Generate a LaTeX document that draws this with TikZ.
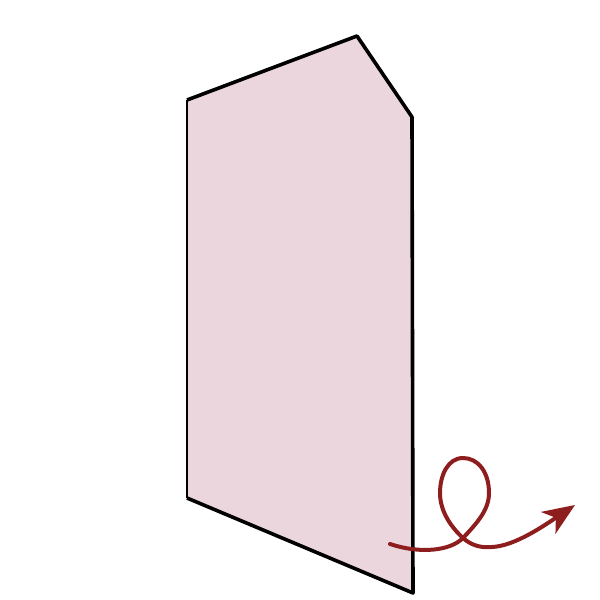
\documentclass[tikz,border=0pt]{standalone}
\usetikzlibrary{arrows.meta}
\definecolor{panelfill}{HTML}{EBD6DE}
\definecolor{curlred}{HTML}{8E1E1E}
\tikzset{
  panel/.style={fill=panelfill, draw=none},
  thickedge/.style={draw=black, line width=3.6pt, line join=round},
  thinedge/.style={draw=black, line width=1.8pt},
  curl/.style={draw=curlred, line width=4pt, line cap=round,
    -{Stealth[length=32pt,width=26pt,inset=9pt]}}
}
\begin{document}
\begin{tikzpicture}[x=1pt,y=-1pt]
\useasboundingbox (0,0) rectangle (600,600);
\coordinate (a) at (187,100);
\coordinate (b) at (357,36);
\coordinate (c) at (412,117);
\coordinate (d) at (413,593);
\coordinate (e) at (187,498);
\path[panel] (a) -- (b) -- (c) -- (d) -- (e) -- cycle;
\path[thickedge] (a) -- (b) -- (c) -- (d) -- (e);
\path[thinedge] (e) -- (a);
\coordinate (s) at (390,544);
\coordinate (x) at (463,538);
\coordinate (r) at (489,493);
\coordinate (t) at (463,458);
\coordinate (l) at (440,493);
\coordinate (m) at (492,547);
\coordinate (tip) at (575,505);
\path[curl] (s) .. controls (420,554) and (450,551) .. (x)
  .. controls (477,523) and (489,510) .. (r)
  .. controls (489,472) and (478,458) .. (t)
  .. controls (448,458) and (440,475) .. (l)
  .. controls (440,512) and (452,528) .. (x)
  .. controls (472,546) and (482,548) .. (m)
  .. controls (515,546) and (545,525) .. (tip);
\end{tikzpicture}
\end{document}
